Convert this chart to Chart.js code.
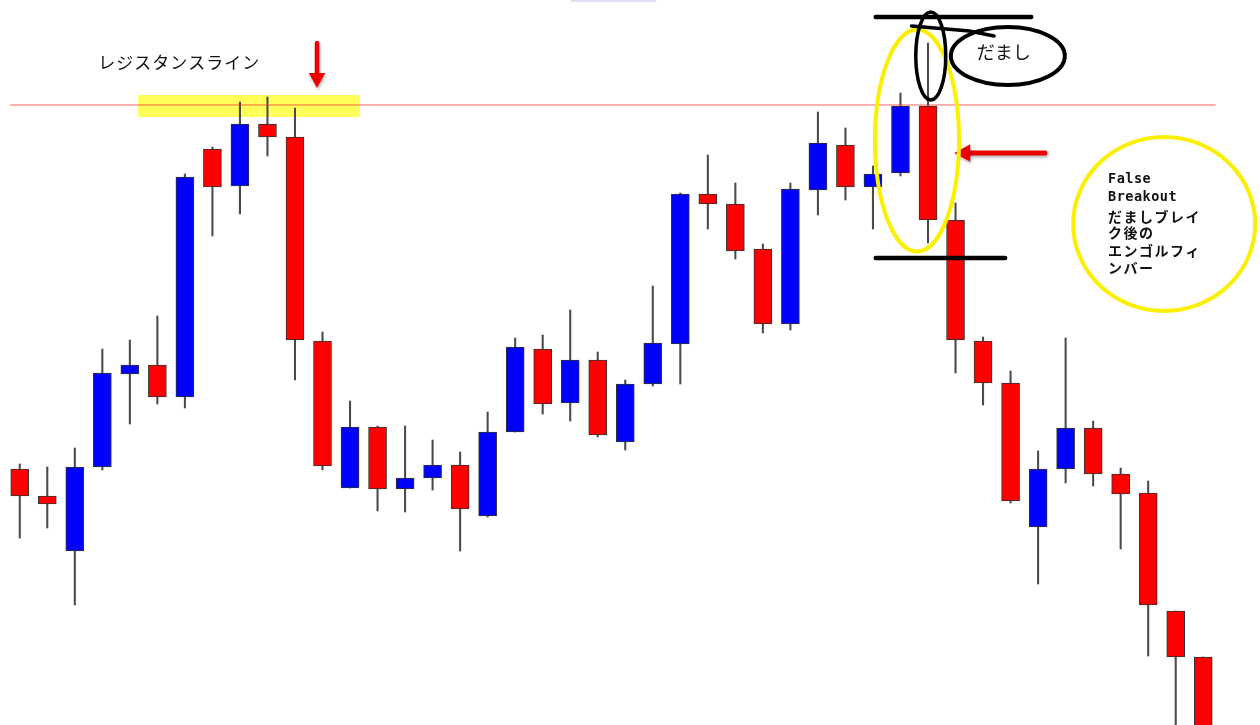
<!DOCTYPE html>
<html>
<head>
<meta charset="utf-8">
<script src="https://cdn.jsdelivr.net/npm/chart.js@4.4.1/dist/chart.umd.min.js"></script>
<style>
  html, body { margin: 0; padding: 0; background: #fff; }
  #wrap { width: 1260px; height: 725px; position: relative; }
</style>
</head>
<body>
<div id="wrap"><canvas id="chart"></canvas></div>
<script>
// candle data (price units)
const labels = ['1','2','3','4','5','6','7','8','9','10','11','12','13','14','15','16','17','18','19','20','21','22',
                '23','24','25','26','27','28','29','30','31','32','33','34','35','36','37','38','39','40','41','42','43','44'];
const opens  = [256, 229, 174, 258, 351, 360, 328, 576, 539, 601, 588, 384, 237, 298, 236, 247, 260, 209, 293, 376, 322, 365,
                283, 341, 381, 531, 521, 476, 401, 535, 580, 538, 552, 619, 505, 384, 342, 198, 256, 297, 251, 232, 114, 68];
const highs  = [261, 258, 277, 376, 385, 409, 551, 578, 623, 628, 617, 393, 324, 299, 299, 285, 273, 313, 387, 390, 415, 373,
                345, 439, 532, 570, 542, 481, 542, 613, 597, 559, 632, 682, 522, 388, 354, 274, 387, 304, 257, 244, 114, 68];
const lows   = [187, 197, 120, 255, 301, 321, 317, 489, 511, 569, 345, 255, 237, 214, 213, 235, 174, 208, 293, 311, 304, 288,
                275, 339, 341, 496, 466, 392, 395, 510, 525, 496, 549, 482, 352, 320, 222, 141, 242, 239, 176, 69, -10, -40];
const closes = [229, 221, 258, 352, 360, 328, 548, 538, 601, 588, 385, 259, 298, 236, 247, 260, 216, 293, 378, 321, 365, 290,
                341, 382, 531, 521, 474, 401, 536, 582, 538, 551, 619, 505, 385, 342, 224, 256, 297, 251, 231, 120, 68, -30];
const resistance = 620;

const bodyColors = opens.map((o, i) => closes[i] > o ? '#0000ff' : '#ff0000');

const notes = {
  id: 'notes',
  beforeDatasetsDraw(chart) {
    const ctx = chart.ctx;
    const xs = chart.scales.x, ys = chart.scales.y;
    const step = xs.getPixelForValue(1) - xs.getPixelForValue(0);
    const X = i => xs.getPixelForValue(0) + i * step;
    const Y = v => ys.getPixelForValue(v);
    ctx.save();
    // highlighted zone at the old highs
    ctx.fillStyle = 'rgba(255,255,60,0.85)';
    ctx.fillRect(X(4.3), Y(630), X(12.35) - X(4.3), Y(608) - Y(630));
    ctx.restore();
  },
  afterDatasetsDraw(chart) {
    const ctx = chart.ctx;
    const xs = chart.scales.x, ys = chart.scales.y;
    const step = xs.getPixelForValue(1) - xs.getPixelForValue(0);
    const X = i => xs.getPixelForValue(0) + i * step;
    const Y = v => ys.getPixelForValue(v);
    ctx.save();

    // faint mark at the top
    ctx.fillStyle = '#dedef6';
    ctx.fillRect(X(20.03), 0, X(23.12) - X(20.03), 2);

    // resistance line
    ctx.strokeStyle = 'rgba(255,50,50,0.5)';
    ctx.lineWidth = 1.5;
    ctx.beginPath();
    ctx.moveTo(X(-0.35), Y(resistance));
    ctx.lineTo(X(43.45), Y(resistance));
    ctx.stroke();

    // label
    ctx.fillStyle = '#111';
    ctx.font = '17px "Noto Sans CJK JP"';
    ctx.textBaseline = 'middle';
    ctx.textAlign = 'left';
    ctx.letterSpacing = '1px';
    ctx.fillText('レジスタンスライン', X(2.85), Y(662));
    ctx.letterSpacing = '0px';

    // red arrows
    const arrow = (x1, y1, x2, y2, head, w) => {
      const a = Math.atan2(y2 - y1, x2 - x1);
      ctx.save();
      ctx.shadowColor = 'rgba(0,0,0,0.3)';
      ctx.shadowBlur = 3;
      ctx.shadowOffsetX = 1;
      ctx.shadowOffsetY = 2;
      ctx.strokeStyle = '#ee0000';
      ctx.fillStyle = '#ee0000';
      ctx.lineWidth = w;
      ctx.lineCap = 'round';
      ctx.beginPath();
      ctx.moveTo(x1, y1);
      ctx.lineTo(x2 - Math.cos(a) * head * 0.8, y2 - Math.sin(a) * head * 0.8);
      ctx.stroke();
      ctx.beginPath();
      ctx.moveTo(x2, y2);
      ctx.lineTo(x2 - Math.cos(a) * head + Math.sin(a) * head * 0.55, y2 - Math.sin(a) * head - Math.cos(a) * head * 0.55);
      ctx.lineTo(x2 - Math.cos(a) * head - Math.sin(a) * head * 0.55, y2 - Math.sin(a) * head + Math.cos(a) * head * 0.55);
      ctx.closePath();
      ctx.fill();
      ctx.restore();
    };
    arrow(X(10.8), Y(682), X(10.8), Y(637), 15, 4.5);
    arrow(X(37.25), Y(572), X(33.95), Y(572), 16, 5);

    // black marker lines
    ctx.strokeStyle = '#000';
    ctx.lineCap = 'round';
    ctx.lineWidth = 4.5;
    ctx.beginPath();
    ctx.moveTo(X(31.1), Y(708)); ctx.lineTo(X(36.75), Y(708));
    ctx.moveTo(X(31.1), Y(467)); ctx.lineTo(X(35.8), Y(467));
    ctx.stroke();

    const ellipse = (cx, cy, rx, ry, color, lw) => {
      ctx.strokeStyle = color;
      ctx.lineWidth = lw;
      ctx.beginPath();
      ctx.ellipse(cx, cy, rx, ry, 0, 0, Math.PI * 2);
      ctx.stroke();
    };

    // yellow ellipse round the two candles
    ellipse(X(32.6), Y(584.5), 42, 111, '#fbf000', 4);
    // black ellipse round the spike and the callout
    ellipse(X(33.1), Y(669), 15, 44, '#000', 3.5);
    ellipse(X(35.9), Y(669), 57, 29, '#000', 4);
    ctx.lineWidth = 3.5;
    ctx.beginPath();
    ctx.moveTo(X(32.4), Y(699));
    ctx.lineTo(X(34.5), Y(694));
    ctx.lineTo(X(35.4), Y(689));
    ctx.stroke();

    ctx.fillStyle = '#111';
    ctx.font = '18px "Noto Sans CJK JP"';
    ctx.textAlign = 'center';
    ctx.fillText('だまし', X(35.75), Y(673));

    // yellow circle with explanation
    ellipse(X(41.58), Y(501), 91, 87, '#fbf000', 4);
    ctx.textAlign = 'left';
    ctx.fillStyle = '#111';
    const tx = X(39.54);
    ctx.font = 'bold 13.5px "DejaVu Sans Mono"';
    ctx.letterSpacing = '0.5px';
    ctx.fillText('False', tx, Y(546));
    ctx.fillText('Breakout', tx, Y(528));
    ctx.font = 'bold 14px "Noto Sans CJK JP"';
    ctx.letterSpacing = '1.5px';
    ctx.fillText('だましブレイ', tx, Y(508));
    ctx.fillText('ク後の', tx, Y(492.5));
    ctx.fillText('エンゴルフィ', tx, Y(474));
    ctx.fillText('ンバー', tx, Y(457.5));
    ctx.letterSpacing = '0px';

    ctx.restore();
  }
};

new Chart(document.getElementById('chart'), {
  type: 'bar',
  data: {
    labels: labels,
    datasets: [{
      label: 'body',
      data: opens.map((o, i) => [o, closes[i]]),
      backgroundColor: bodyColors,
      borderColor: '#333',
      borderWidth: 1,
      borderSkipped: false,
      barThickness: 18,
      grouped: false
    }, {
      label: 'wick',
      data: lows.map((l, i) => [l, highs[i]]),
      backgroundColor: '#4a4a4a',
      borderWidth: 0,
      barThickness: 1.4,
      grouped: false
    }]
  },
  options: {
    responsive: true,
    maintainAspectRatio: false,
    animation: false,
    layout: { padding: { left: 6, right: 43, top: 0, bottom: 0 } },
    scales: {
      x: { display: false, offset: true },
      y: { display: false, min: 0, max: 725 }
    },
    plugins: {
      legend: { display: false },
      tooltip: { enabled: false }
    }
  },
  plugins: [notes]
});
</script>
</body>
</html>
